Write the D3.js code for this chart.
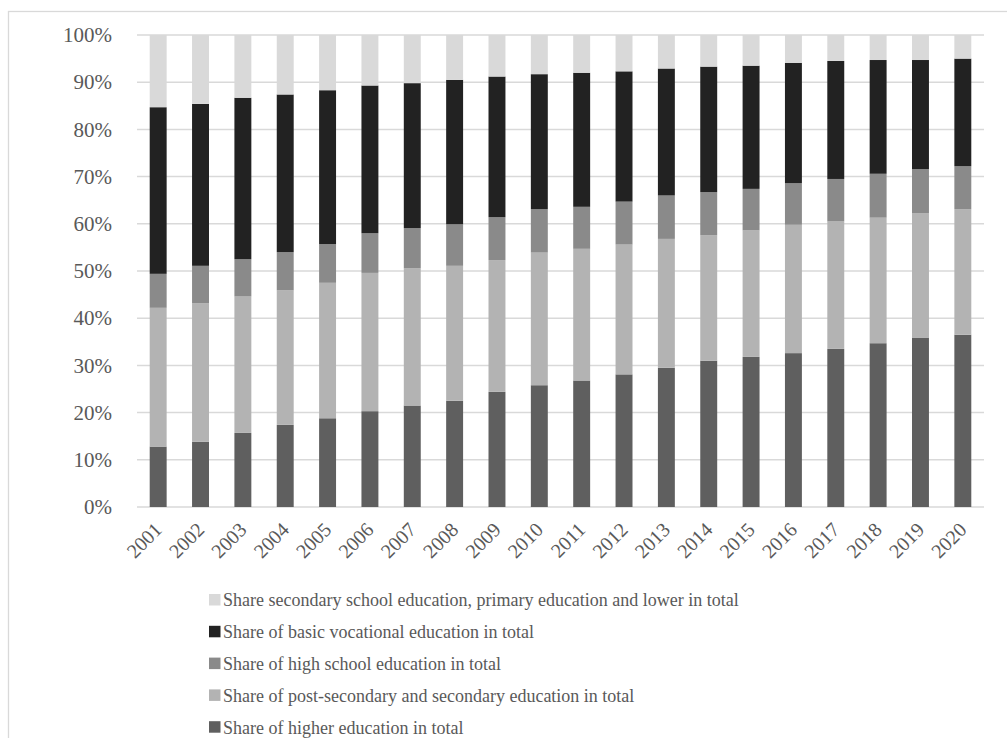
<!DOCTYPE html>
<html>
<head>
<meta charset="utf-8">
<script src="https://cdn.jsdelivr.net/npm/d3@7"></script>
<style>
  html, body { margin: 0; padding: 0; background: #ffffff; }
  svg { display: block; }
</style>
</head>
<body>
<svg id="chart" width="1007" height="738"></svg>
<script>
// Years on the category axis
const years = ["2001","2002","2003","2004","2005","2006","2007","2008","2009","2010",
               "2011","2012","2013","2014","2015","2016","2017","2018","2019","2020"];

// Shares of each education level (percent of total), stacked bottom to top
const higherEdu     = [12.8,13.8,15.7,17.4,18.8,20.3,21.5,22.5,24.4,25.8,26.8,28.1,29.5,31.0,31.8,32.6,33.5,34.7,35.9,36.5];
const postSecondary = [29.4,29.4,28.9,28.5,28.7,29.3,29.1,28.6,27.9,28.1,27.9,27.5,27.3,26.6,26.8,27.2,27.0,26.6,26.3,26.6];
const highSchool    = [7.2,7.9,7.9,8.1,8.2,8.4,8.5,8.8,9.1,9.2,8.9,9.1,9.2,9.1,8.8,8.8,9.0,9.3,9.4,9.1];
const vocational    = [35.3,34.3,34.2,33.4,32.6,31.3,30.7,30.6,29.8,28.6,28.4,27.6,26.9,26.6,26.1,25.5,25.0,24.1,23.1,22.8];
const lowerEdu      = [15.3,14.6,13.3,12.6,11.7,10.7,10.2,9.5,8.8,8.3,8.0,7.7,7.1,6.7,6.5,5.9,5.5,5.3,5.3,5.0];

// Series names, bottom of the stack first
const seriesNames = [
  "Share of higher education in total",
  "Share of post-secondary and secondary education in total",
  "Share of high school education in total",
  "Share of basic vocational education in total",
  "Share secondary school education, primary education and lower in total"
];
const seriesKeys = ["higher", "postsec", "highschool", "vocational", "lower"];
const seriesColors = ["#5f5f5f", "#b3b3b3", "#8a8a8a", "#222222", "#d9d9d9"];

// Y-axis tick values
const yTicks = [0, 0.1, 0.2, 0.3, 0.4, 0.5, 0.6, 0.7, 0.8, 0.9, 1.0];

const FONT = "'Liberation Serif', 'Times New Roman', Times, serif";
const TEXT_COLOR = "#595959";

const rows = years.map((y, i) => ({
  year: y,
  higher: higherEdu[i],
  postsec: postSecondary[i],
  highschool: highSchool[i],
  vocational: vocational[i],
  lower: lowerEdu[i]
}));

const svg = d3.select("#chart");

// Chart frame
svg.append("rect")
  .attr("x", 8.5).attr("y", 11.5)
  .attr("width", 1010).attr("height", 740)
  .attr("fill", "none").attr("stroke", "#d9d9d9").attr("stroke-width", 1.3);

const plot = { left: 137, right: 984, top: 35, bottom: 507 };

const x = d3.scaleBand()
  .domain(years)
  .range([plot.left, plot.right])
  .paddingInner(0.6)
  .paddingOuter(0.3);

const y = d3.scaleLinear()
  .domain([0, 1])
  .range([plot.bottom, plot.top]);

// Horizontal gridlines
svg.append("g")
  .selectAll("line")
  .data(yTicks)
  .join("line")
  .attr("x1", plot.left).attr("x2", plot.right)
  .attr("y1", d => y(d)).attr("y2", d => y(d))
  .attr("stroke", "#d9d9d9").attr("stroke-width", 1.5);

// Y axis labels
const yAxis = svg.append("g")
  .attr("transform", `translate(${plot.left - 25},0)`)
  .call(d3.axisLeft(y).tickValues(yTicks).tickFormat(d3.format(".0%")).tickSize(0).tickPadding(0));
yAxis.select(".domain").remove();
yAxis.attr("font-family", null).attr("font-size", null);
yAxis.selectAll("text")
  .style("font-family", FONT)
  .style("font-size", "21px")
  .style("fill", TEXT_COLOR);

// Stacked bars
const stacked = d3.stack().keys(seriesKeys)(rows.map(r => {
  const o = { year: r.year };
  seriesKeys.forEach(k => o[k] = r[k] / 100);
  return o;
}));

svg.append("g")
  .selectAll("g")
  .data(stacked)
  .join("g")
  .attr("fill", (d, i) => seriesColors[i])
  .selectAll("rect")
  .data(d => d)
  .join("rect")
  .attr("x", d => x(d.data.year))
  .attr("width", x.bandwidth())
  .attr("y", d => y(Math.min(d[1], 1)))
  .attr("height", d => y(d[0]) - y(Math.min(d[1], 1)));

// X axis labels, rotated
const xAxis = svg.append("g")
  .attr("transform", `translate(0,${plot.bottom})`)
  .call(d3.axisBottom(x).tickSize(0).tickPadding(0));
xAxis.select(".domain").remove();
xAxis.attr("font-family", null).attr("font-size", null);
xAxis.selectAll("text")
  .style("font-family", FONT)
  .style("font-size", "20px")
  .style("fill", TEXT_COLOR)
  .attr("text-anchor", "end")
  .attr("dy", null)
  .attr("y", 0)
  .attr("transform", "translate(5,24) rotate(-45)");

// Legend
const legendItems = seriesNames.map((n, i) => ({ name: n, color: seriesColors[i] })).reverse();
const legend = svg.append("g");
legendItems.forEach((item, i) => {
  const cy = 600 + i * 31.8;
  legend.append("rect")
    .attr("x", 209).attr("y", cy - 6)
    .attr("width", 11.5).attr("height", 11.5)
    .attr("fill", item.color);
  legend.append("text")
    .attr("x", 223).attr("y", cy)
    .attr("dy", "0.35em")
    .style("font-family", FONT)
    .style("font-size", "18px")
    .style("fill", TEXT_COLOR)
    .text(item.name);
});
</script>
</body>
</html>
